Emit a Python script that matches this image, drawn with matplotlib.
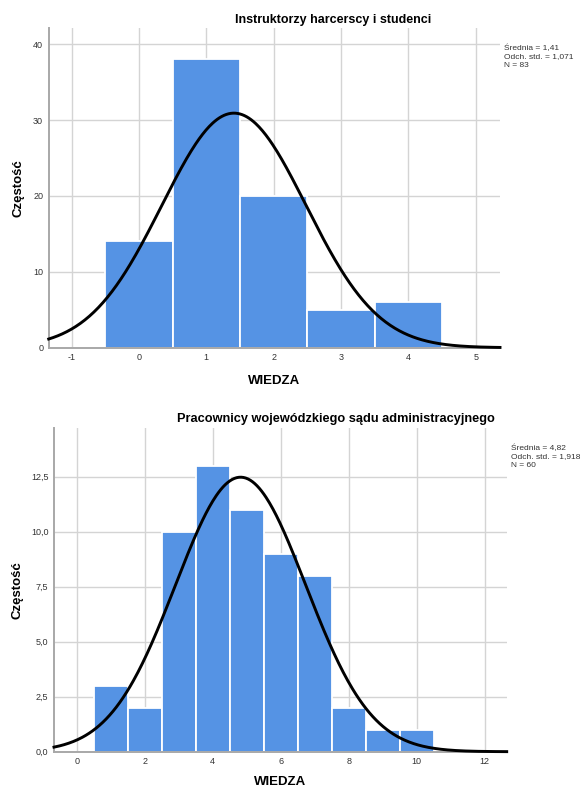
import numpy as np
import matplotlib
matplotlib.use("Agg")
import matplotlib.pyplot as plt
from matplotlib.ticker import FuncFormatter

plt.rcParams['font.family'] = ['Liberation Sans', 'DejaVu Sans']
plt.rcParams['axes.unicode_minus'] = False

# panel 1
top_title = "Instruktorzy harcerscy i studenci"
top_values = [0, 1, 2, 3, 4]
top_counts = [14, 38, 20, 5, 6]
top_mean, top_sd, top_n = 1.41, 1.071, 83
top_stats = ["Średnia = 1,41", "Odch. std. = 1,071", "N = 83"]
top_xticks = [-1, 0, 1, 2, 3, 4, 5]
top_yticks = [0, 10, 20, 30, 40]

# panel 2
bot_title = "Pracownicy wojewódzkiego sądu administracyjnego"
bot_values = [1, 2, 3, 4, 5, 6, 7, 8, 9, 10]
bot_counts = [3, 2, 10, 13, 11, 9, 8, 2, 1, 1]
bot_mean, bot_sd, bot_n = 4.82, 1.918, 60
bot_stats = ["Średnia = 4,82", "Odch. std. = 1,918", "N = 60"]
bot_xticks = [0, 2, 4, 6, 8, 10, 12]
bot_yticks = [0, 2.5, 5.0, 7.5, 10.0, 12.5]

BAR = '#5593e4'
GRID = '#d4d4d4'
SPINE = '#a8a8a8'
TXT = '#333333'


def panel(ax, values, counts, mean, sd, n, xlim, ylim, xticks, yticks, yfmt):
    ax.set_axisbelow(True)
    ax.grid(True, color=GRID, linewidth=1.0)
    ax.bar(values, counts, width=1.0, color=BAR, edgecolor='white', linewidth=1.3, zorder=2)
    # normal curve from the mean / sd / N printed on the chart
    xs = np.linspace(xlim[0], xlim[1], 400)
    dens = n * np.exp(-0.5 * ((xs - mean) / sd) ** 2) / (sd * np.sqrt(2 * np.pi))
    ax.plot(xs, dens, color='black', linewidth=2.1, zorder=3, clip_on=False)
    ax.set_xlim(*xlim); ax.set_ylim(*ylim)
    ax.set_xticks(xticks); ax.set_yticks(yticks)
    ax.yaxis.set_major_formatter(FuncFormatter(yfmt))
    ax.tick_params(length=0, labelsize=6.5, colors=TXT, pad=4)
    for s in ['top', 'right']:
        ax.spines[s].set_visible(False)
    for s in ['left', 'bottom']:
        ax.spines[s].set_color(SPINE)
        ax.spines[s].set_linewidth(1.4)
    ax.set_xlabel("WIEDZA", fontsize=9.5, fontweight='bold', labelpad=9)
    ax.set_ylabel("Częstość", fontsize=9.5, fontweight='bold')


fig = plt.figure(figsize=(5.84, 7.91), dpi=100)
W, H = 584.0, 791.0

ax1 = fig.add_axes([48.7 / W, 1 - 347.7 / H, (500 - 48.7) / W, (347.7 - 28.3) / H])
panel(ax1, top_values, top_counts, top_mean, top_sd, top_n, (-1.34, 5.36), (0, 42.1),
      top_xticks, top_yticks, lambda v, p: f"{v:.0f}")
ax1.yaxis.set_label_coords(-24.5 / (500 - 48.7), 0.5)
fig.text(333 / W, 1 - 19.5 / H, top_title, ha='center', va='center', fontsize=9, fontweight='bold')
for i, s in enumerate(top_stats):
    fig.text(504 / W, 1 - (48 + i * 8.6) / H, s, ha='left', va='center', fontsize=6, color=TXT)

ax2 = fig.add_axes([54 / W, 1 - 751.7 / H, (506.7 - 54) / W, (751.7 - 427.7) / H])
panel(ax2, bot_values, bot_counts, bot_mean, bot_sd, bot_n, (-0.67, 12.65), (0, 14.73),
      bot_xticks, bot_yticks, lambda v, p: f"{v:.1f}".replace('.', ','))
ax2.yaxis.set_label_coords(-30 / (506.7 - 54), 0.5)
ax2.xaxis.labelpad = 7
fig.text(336 / W, 1 - 419 / H, bot_title, ha='center', va='center', fontsize=9.2, fontweight='bold')
for i, s in enumerate(bot_stats):
    fig.text(511 / W, 1 - (448 + i * 8.6) / H, s, ha='left', va='center', fontsize=6, color=TXT)

fig.savefig("out.png", dpi=100)
